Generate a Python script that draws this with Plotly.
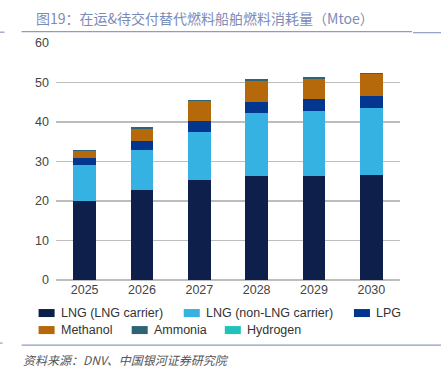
import plotly.graph_objects as go

years = ["2025", "2026", "2027", "2028", "2029", "2030"]
lng_carrier = [20.0, 22.7, 25.2, 26.3, 26.3, 26.6]
lng_non_carrier = [9.0, 10.25, 12.2, 15.9, 16.4, 16.9]
lpg = [2.0, 2.35, 2.9, 2.9, 3.0, 3.2]
methanol = [1.6, 3.0, 5.0, 5.3, 5.3, 5.4]
ammonia = [0.25, 0.35, 0.3, 0.4, 0.35, 0.35]
hydrogen = [0.02, 0.02, 0.02, 0.02, 0.02, 0.02]

series_names = ["LNG (LNG carrier)", "LNG (non-LNG carrier)", "LPG", "Methanol", "Ammonia", "Hydrogen"]
series_values = [lng_carrier, lng_non_carrier, lpg, methanol, ammonia, hydrogen]
colors = ["#0f1f4b", "#35b1e2", "#03378f", "#b5690a", "#2e6475", "#1ec3b9"]

W, H = 441, 378
L, R, T, B = 56.4, 400.0, 43.3, 280.0

def px2x(px):
    return (px - L) / (R - L)

def px2y(py):
    return (B - py) / (B - T)

fig = go.Figure()
for name, vals, c in zip(series_names, series_values, colors):
    fig.add_trace(go.Bar(x=years, y=vals, name=name, marker=dict(color=c, line=dict(width=0)),
                         showlegend=False))

shapes = []
annotations = []

# header and footer rules
for (x0, x1, y) in [(22, 412, 32), (0, 5, 32.5), (413, 441, 33), (22, 441, 345), (0, 3, 343)]:
    shapes.append(dict(type="line", xref="paper", yref="paper", x0=px2x(x0), x1=px2x(x1),
                       y0=px2y(y), y1=px2y(y), line=dict(color="#8e9cc4", width=1.2)))

annotations.append(dict(text="图19：在运&待交付替代燃料船舶燃料消耗量（Mtoe）", xref="paper", yref="paper",
                        x=px2x(34), y=px2y(18), xanchor="left", yanchor="middle", showarrow=False,
                        font=dict(family="Noto Sans CJK SC", size=14, color="#7b8bb8")))
annotations.append(dict(text="<i>资料来源：DNV、中国银河证券研究院</i>", xref="paper", yref="paper",
                        x=px2x(21), y=px2y(359), xanchor="left", yanchor="middle", showarrow=False,
                        font=dict(family="Noto Sans CJK SC", size=12, color="#555555")))

# custom legend
legend_pos = [(39, 313), (184, 313), (354, 313), (39, 330), (132, 330), (225, 330)]
for name, c, (lx, ly) in zip(series_names, colors, legend_pos):
    shapes.append(dict(type="rect", xref="paper", yref="paper", x0=px2x(lx), x1=px2x(lx + 16),
                       y0=px2y(ly + 4), y1=px2y(ly - 4), fillcolor=c, line=dict(width=0)))
    annotations.append(dict(text=name, xref="paper", yref="paper", x=px2x(lx + 20), y=px2y(ly),
                            xanchor="left", yanchor="middle", showarrow=False,
                            font=dict(family="Liberation Sans, Arial", size=12.5, color="#333333")))

fig.update_layout(
    barmode="stack",
    bargap=0.6,
    width=W, height=H,
    margin=dict(l=L, r=W - R, t=T, b=H - B, pad=0, autoexpand=False),
    paper_bgcolor="white", plot_bgcolor="white",
    shapes=shapes, annotations=annotations,
    font=dict(family="Liberation Sans, Arial", size=12.5, color="#444444"),
    xaxis=dict(showgrid=False, showline=False, ticks="", automargin=False,
               tickfont=dict(size=12.5, color="#444444")),
    yaxis=dict(range=[0, 60], tickvals=[0, 10, 20, 30, 40, 50, 60], showgrid=True,
               gridcolor="#bdbdbd", gridwidth=1.5, zeroline=True, zerolinecolor="#bdbdbd",
               zerolinewidth=1.5, showline=False, ticks="", ticklabelstandoff=6, automargin=False,
               tickfont=dict(size=12.5, color="#444444")),
)

fig.write_html("out.html", config={"displayModeBar": False, "staticPlot": True},
               post_script="document.body.style.margin='0';document.body.style.overflow='hidden';")
